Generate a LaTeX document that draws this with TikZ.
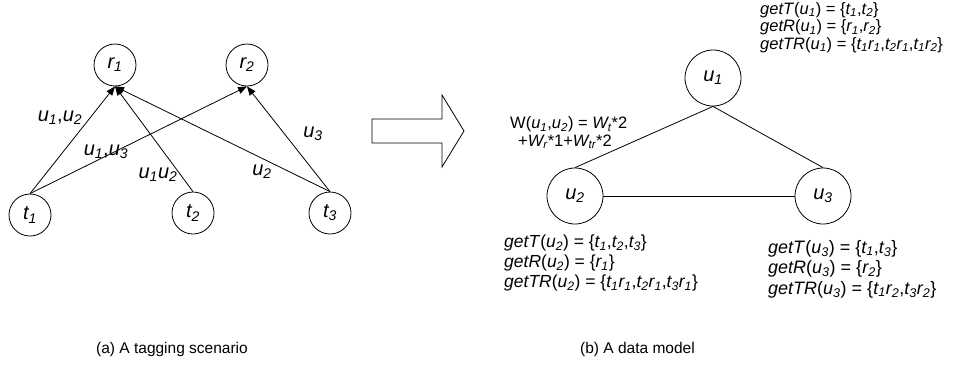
\documentclass[tikz,border=0pt]{standalone}
\usepackage{fontspec}
\setmainfont{Liberation Sans}
\usetikzlibrary{arrows.meta}
% italic symbol with an italic subscript, e.g. \vv{t}{1}
\newcommand\vv[2]{{\itshape #1\textsubscript{#2}}}
\begin{document}
\begin{tikzpicture}[x=1pt,y=-1pt,
  vert/.style={circle,draw,line width=0.8pt,inner sep=0pt,minimum size=42pt,
    font=\fontsize{20}{22}\selectfont},
  uvert/.style={vert,minimum size=56pt},
  tagarrow/.style={-{Triangle[length=9pt,width=7pt]},line width=0.8pt},
  link/.style={line width=0.8pt},
  elabel/.style={inner sep=0pt,font=\fontsize{20}{22}\selectfont},
  block/.style={align=left,anchor=west,inner sep=0pt,font=\fontsize{17.5}{20}\selectfont},
  smallblock/.style={block,font=\fontsize{16.5}{17.5}\selectfont},
  caption/.style={anchor=west,inner sep=0pt,font=\fontsize{15.5}{18}\selectfont}
]
\fill[white] (0,0) rectangle (957,367);
\useasboundingbox (0,0) rectangle (957,367);

% (a) tagging scenario: resources on top, tags below
\node[vert] (r1) at (115,65) {\vv r1};
\node[vert] (r2) at (247,65) {\vv r2};
\node[vert] (t1) at (30,215) {\vv t1};
\node[vert] (t2) at (193,213) {\vv t2};
\node[vert] (t3) at (330,213) {\vv t3};

\draw[tagarrow] (t1.north) -- (r1.south);
\draw[tagarrow] (t1.north) -- (r2.south);
\draw[tagarrow] (t2.north) -- (r1.south);
\draw[tagarrow] (t3.north) -- (r1.south);
\draw[tagarrow] (t3.north) -- (r2.south);

\node[elabel] (l12) at (60,118) {\vv u1,\vv u2};
\node[elabel] (l13) at (106,152) {\vv u1,\vv u3};
\node[elabel] (l2a) at (158,175) {\vv u1\vv u2};
\node[elabel] (l2b) at (262,172) {\vv u2};
\node[elabel] (l3) at (313,134) {\vv u3};

% transformation arrow
\draw[link] (372,119) -- (442,119) -- (442,95) -- (464,131) -- (442,167)
  -- (442,143) -- (372,143) -- cycle;

% (b) data model: users and their weighted links
\node[uvert] (u1) at (713,78) {\vv u1};
\node[uvert] (u2) at (575,196) {\vv u2};
\node[uvert] (u3) at (823,196) {\vv u3};

\draw[link] (u1.south) -- (u2.north);
\draw[link] (u1.south) -- (u3.north);
\draw[link] (u2.east) -- (u3.west);

\node[block,font=\fontsize{16.5}{17.5}\selectfont] (w12) at (510,133)
  {W(\vv u1,\vv u2) = \vv Wt*2\\ \hspace*{8pt}+\vv Wr*1+\vv W{tr}*2};

\node[smallblock] (g1) at (760,27.5)
  {\textit{getT}(\vv u1) = \{\vv t1,\vv t2\}\\
   \textit{getR}(\vv u1) = \{\vv r1,\vv r2\}\\
   \textit{getTR}(\vv u1) = \{\vv t1\vv r1,\vv t2\vv r1,\vv t1\vv r2\}};
\node[block] (g2) at (504,263)
  {\textit{getT}(\vv u2) = \{\vv t1,\vv t2,\vv t3\}\\
   \textit{getR}(\vv u2) = \{\vv r1\}\\
   \textit{getTR}(\vv u2) = \{\vv t1\vv r1,\vv t2\vv r1,\vv t3\vv r1\}};
\node[block,font=\fontsize{18}{20.5}\selectfont] (g3) at (768,269)
  {\textit{getT}(\vv u3) = \{\vv t1,\vv t3\}\\
   \textit{getR}(\vv u3) = \{\vv r2\}\\
   \textit{getTR}(\vv u3) = \{\vv t1\vv r2,\vv t3\vv r2\}};

% captions
\node[caption] (capa) at (96,349) {(a) A tagging scenario};
\node[caption] (capb) at (580,349) {(b) A data model};
\end{tikzpicture}
\end{document}
